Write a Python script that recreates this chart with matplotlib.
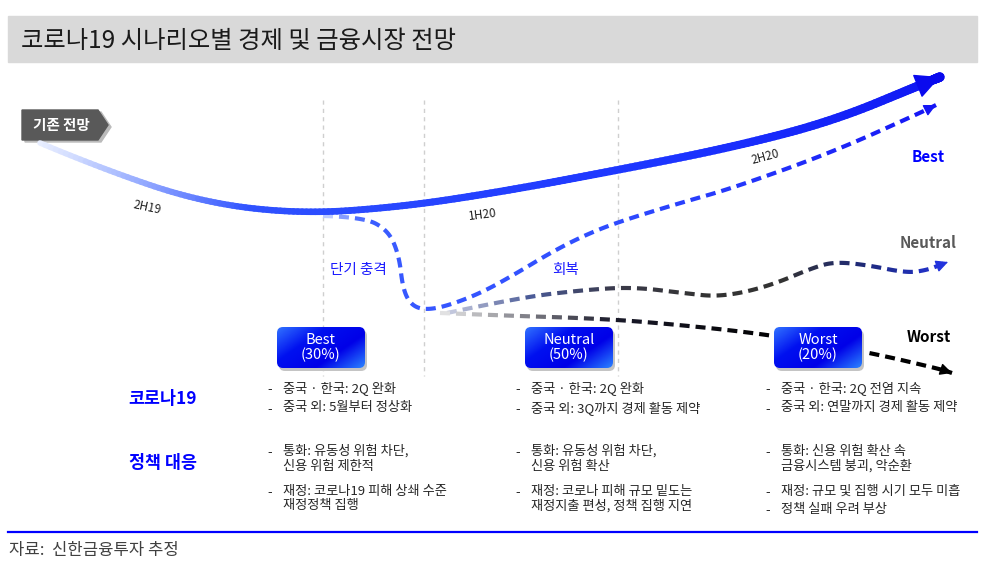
import numpy as np
import matplotlib
matplotlib.use("Agg")
import matplotlib.pyplot as plt
from matplotlib.path import Path
from matplotlib.patches import Rectangle, Polygon, FancyBboxPatch
from matplotlib.collections import LineCollection
from matplotlib.colors import LinearSegmentedColormap

plt.rcParams['font.family'] = ['Noto Sans CJK KR', 'DejaVu Sans']

# ---- data (pixel positions, y grows downward) ----
title = "코로나19 시나리오별 경제 및 금융시장 전망"
source = "자료:  신한금융투자 추정"

base_x = [40, 100, 200, 300, 400, 500, 618, 733, 833, 925, 940]
base_y = [143, 168, 202, 214, 207, 192, 170, 147, 121, 83, 77]

best_x = [323, 363, 388, 399, 403, 412, 427, 450, 483, 517, 550, 583, 618, 680, 733, 833, 922, 936]
best_y = [216, 217, 230, 255, 290, 306, 310, 305, 292, 273, 253, 236, 222, 203, 188, 152, 112, 105]

neutral_x = [447, 517, 583, 633, 683, 720, 767, 817, 837, 867, 907, 927, 940, 948]
neutral_y = [313, 298, 290, 287, 293, 297, 287, 266, 262, 265, 273, 270, 265, 262]

worst_x = [440, 517, 583, 650, 767, 867, 940, 952]
worst_y = [313, 316, 318, 322, 334, 352, 369, 373]

period_labels = ["2H19", "1H20", "2H20"]
period_pos = [(147, 208, -12), (483, 215, 7), (765, 157, 15)]

divider_x = [323, 424, 618]

scenarios = ["Best", "Neutral", "Worst"]
probs = [30, 50, 20]
box_cx = [321, 569, 818]

row_names = ["코로나19", "정책 대응"]
row_name_y = [399, 463]

best_notes = ["중국 · 한국: 2Q 완화", "중국 외: 5월부터 정상화",
              "통화: 유동성 위험 차단,\n신용 위험 제한적",
              "재정: 코로나19 피해 상쇄 수준\n재정정책 집행"]
neutral_notes = ["중국 · 한국: 2Q 완화", "중국 외: 3Q까지 경제 활동 제약",
                 "통화: 유동성 위험 차단,\n신용 위험 확산",
                 "재정: 코로나 피해 규모 밑도는\n재정지출 편성, 정책 집행 지연"]
worst_notes = ["중국 · 한국: 2Q 전염 지속", "중국 외: 연말까지 경제 활동 제약",
               "통화: 신용 위험 확산 속\n금융시스템 붕괴, 악순환",
               "재정: 규모 및 집행 시기 모두 미흡", "정책 실패 우려 부상"]
note_y = [[390, 410, 453, 493], [390, 410, 453, 493], [390, 410, 453, 493, 511]]
note_x = [267, 515, 765]


def smooth(xs, ys, k=24):
    p = np.column_stack([xs, ys]).astype(float)
    verts, codes = [p[0]], [Path.MOVETO]
    for i in range(1, len(p) - 1):
        verts += [p[i], (p[i] + p[i + 1]) / 2]
        codes += [Path.CURVE3, Path.CURVE3]
    verts.append(p[-1])
    codes.append(Path.LINETO)
    out = []
    for seg, code in Path(verts, codes).iter_bezier():
        if code == Path.MOVETO:
            out.append(seg.control_points[:1])
        else:
            out.append(seg(np.linspace(0, 1, k))[1:])
    return np.vstack(out)


def dashed(ax, pts, cmap, lw, on, off, z=3):
    s = np.concatenate([[0], np.cumsum(np.hypot(*np.diff(pts, axis=0).T))])
    L = s[-1]
    d = 0.0
    while d < L - 2:
        e = min(d + on, L)
        m = (s > d) & (s < e)
        xs = np.concatenate([[np.interp(d, s, pts[:, 0])], pts[m, 0], [np.interp(e, s, pts[:, 0])]])
        ys = np.concatenate([[np.interp(d, s, pts[:, 1])], pts[m, 1], [np.interp(e, s, pts[:, 1])]])
        ax.plot(xs, ys, color=cmap((d + e) / 2 / L), lw=lw, solid_capstyle='butt', zorder=z)
        d += on + off


def arrow(ax, pts, color, ms, back=10):
    ax.annotate("", xy=pts[-1], xytext=pts[-back],
                arrowprops=dict(arrowstyle="-|>", color=color, lw=1, mutation_scale=ms,
                                shrinkA=0, shrinkB=0), zorder=5)


fig = plt.figure(figsize=(10.03, 5.76), dpi=100)
ax = fig.add_axes([0, 0, 1, 1])
ax.set_xlim(0, 1003)
ax.set_ylim(576, 0)
ax.axis('off')

# title bar
ax.add_patch(Rectangle((8, 16), 969, 46, color='#d9d9d9', zorder=1))
ax.text(21, 41, title, fontsize=17.5, va='center', ha='left', color='#1a1a1a', zorder=2)

# period dividers
for x in divider_x:
    ax.plot([x, x], [100, 376], color='#cfcfcf', lw=1, ls=(0, (3, 3)), zorder=1)

# base outlook tag
ax.add_patch(Polygon([(25, 112), (101, 112), (111, 127), (101, 142), (25, 142)],
                     closed=True, color='#bbbbbb', zorder=2))
ax.add_patch(Polygon([(22, 110), (98, 110), (108, 125), (98, 140), (22, 140)],
                     closed=True, color='#595959', zorder=3))
ax.text(61, 125, "기존 전망", fontsize=10.5, weight='bold', color='white', ha='center', va='center', zorder=4)

# main (best case) solid curve with gradient
pts = smooth(base_x, base_y)
segs = np.stack([pts[:-1], pts[1:]], axis=1)
frac = np.linspace(0, 1, len(segs))
main_cmap = LinearSegmentedColormap.from_list('m', [(0, '#e8eeff'), (0.08, '#9fb3ff'), (0.2, '#2f52ff'),
                                                    (0.6, '#1c34ff'), (1, '#0a0aee')])
lc = LineCollection(segs, colors=main_cmap(frac), linewidths=4.0 + 2.8 * frac, capstyle='round', zorder=4)
ax.add_collection(lc)
arrow(ax, pts, '#0a0aee', 40, back=12)

# best dashed
pts = smooth(best_x, best_y)
cm = LinearSegmentedColormap.from_list('b', [(0, '#c8d4ff'), (0.06, '#3a5cff'), (0.5, '#2f4dff'),
                                             (1, '#1515f5')])
dashed(ax, pts, cm, 3.0, 10, 6)
arrow(ax, pts, '#1515f5', 18)

# neutral dashed
pts = smooth(neutral_x, neutral_y)
cm = LinearSegmentedColormap.from_list('n', ['#c8cce0', '#4a5a96', '#3a3a4a', '#333333', '#333333',
                                             '#1e2a78', '#2233dd'])
dashed(ax, pts, cm, 3.0, 10, 6)
arrow(ax, pts, '#2233dd', 18)

# worst dashed
pts = smooth(worst_x, worst_y)
cm = LinearSegmentedColormap.from_list('w', ['#e6e6e6', '#1a1a2a', '#000000', '#000000'])
dashed(ax, pts, cm, 3.0, 10, 6)
arrow(ax, pts, '#000000', 18, back=6)

# period labels
for lab, (x, y, r) in zip(period_labels, period_pos):
    ax.text(x, y, lab, fontsize=8.5, rotation=r, ha='center', va='center', color='#222222', zorder=6)

ax.text(358, 270, "단기 충격", fontsize=10.5, color='#1a1aff', ha='center', va='center', zorder=6)
ax.text(566, 270, "회복", fontsize=10.5, color='#1a1aff', ha='center', va='center', zorder=6)

# scenario labels at right
ax.text(928, 157, "Best", fontsize=11, weight='bold', color='#0000ff', ha='center', va='center')
ax.text(928, 243, "Neutral", fontsize=11, weight='bold', color='#595959', ha='center', va='center')
ax.text(929, 337, "Worst", fontsize=11, weight='bold', color='#000000', ha='center', va='center')

# scenario boxes
box_cmap = LinearSegmentedColormap.from_list('bx', ['#3070ff', '#0010f0', '#0000e8', '#2a80ff'])
gx, gy = np.meshgrid(np.linspace(0, 1, 60), np.linspace(0, 1, 30))
grad = (gx * 0.6 + gy * 0.4)
for name, p, cx in zip(scenarios, probs, box_cx):
    x0, y0, w, h = cx - 44, 327, 88, 41
    ax.add_patch(FancyBboxPatch((x0 + 2, y0 + 3), w, h, boxstyle="round,pad=0,rounding_size=6",
                                fc='#c4c4c4', ec='none', zorder=6))
    patch = FancyBboxPatch((x0, y0), w, h, boxstyle="round,pad=0,rounding_size=6",
                           fc='none', ec='none', zorder=7)
    ax.add_patch(patch)
    im = ax.imshow(grad, extent=(x0, x0 + w, y0 + h, y0), cmap=box_cmap, aspect='auto',
                   interpolation='bilinear', zorder=7)
    im.set_clip_path(patch)
    ax.text(cx, y0 + h / 2, f"{name}\n({p}%)", fontsize=10.5, color='white', ha='center',
            va='center', linespacing=1.0, zorder=8)

ax.set_xlim(0, 1003)
ax.set_ylim(576, 0)

# row headers
for name, y in zip(row_names, row_name_y):
    ax.text(163, y, name, fontsize=12.5, weight='bold', color='#0000ff', ha='center', va='center')

# bullet notes
for notes, ys, x in zip([best_notes, neutral_notes, worst_notes], note_y, note_x):
    for t, y in zip(notes, ys):
        ax.text(x, y, "-", fontsize=9.5, color='#262626', ha='left', va='center')
        ax.text(x + 16, y - 8.5, t, fontsize=9.5, weight='medium', color='#262626', ha='left',
                va='top', linespacing=1.2)

# bottom rule and source
ax.plot([8, 977], [532, 532], color='#0000ff', lw=1.6)
ax.text(9, 551, source, fontsize=12, color='#404040', ha='left', va='center')

fig.savefig("out.png", dpi=100)
